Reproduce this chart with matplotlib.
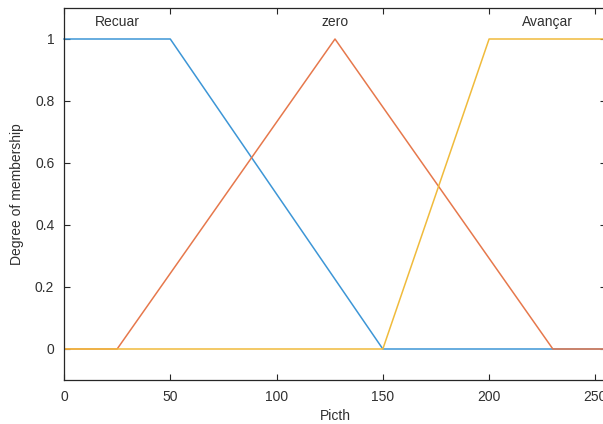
import matplotlib
matplotlib.use("Agg")
import matplotlib.pyplot as plt
import numpy as np

plt.rcParams['font.family'] = ['Liberation Sans', 'DejaVu Sans']

# Membership function definitions (Pitch universe 0..255)
names = ["Recuar", "zero", "Avançar"]
recuar_x = [0, 50, 150, 255]
recuar_y = [1, 1, 0, 0]
zero_x = [0, 25, 127.5, 230, 255]
zero_y = [0, 0, 1, 0, 0]
avancar_x = [0, 150, 200, 255]
avancar_y = [0, 0, 1, 1]
label_x = [25, 127.5, 227.5]
label_y = 1.055

xticks = [0, 50, 100, 150, 200, 250]
yticks = [0, 0.2, 0.4, 0.6, 0.8, 1]

colors = ['#3d96d6', '#e6784c', '#f0bb3c']
txt = '#303030'

fig = plt.figure(figsize=(6.03, 4.24), dpi=100)
ax = fig.add_axes([64/603, 44/424, 542/603, 372/424])

ax.plot(recuar_x, recuar_y, color=colors[0], lw=1.1, clip_on=False)
ax.plot(zero_x, zero_y, color=colors[1], lw=1.1)
ax.plot(avancar_x, avancar_y, color=colors[2], lw=1.1)

for n, lx in zip(names, label_x):
    ax.text(lx, label_y, n, ha='center', va='center', fontsize=10, color=txt)

ax.set_xlim(0, 255)
ax.set_ylim(-0.1, 1.1)
ax.set_xticks(xticks)
ax.set_yticks(yticks)
ax.set_yticklabels(['0', '0.2', '0.4', '0.6', '0.8', '1'])
ax.tick_params(direction='in', top=True, right=True, length=4, width=0.8,
               colors='#262626', labelsize=10, labelcolor=txt, pad=7)
for s in ax.spines.values():
    s.set_color('#262626')
    s.set_linewidth(0.9)

ax.set_xlabel('Picth', fontsize=10, color=txt, labelpad=4)
ax.set_ylabel('Degree of membership', fontsize=10, color=txt, labelpad=8)

fig.savefig('out.png', dpi=100)
